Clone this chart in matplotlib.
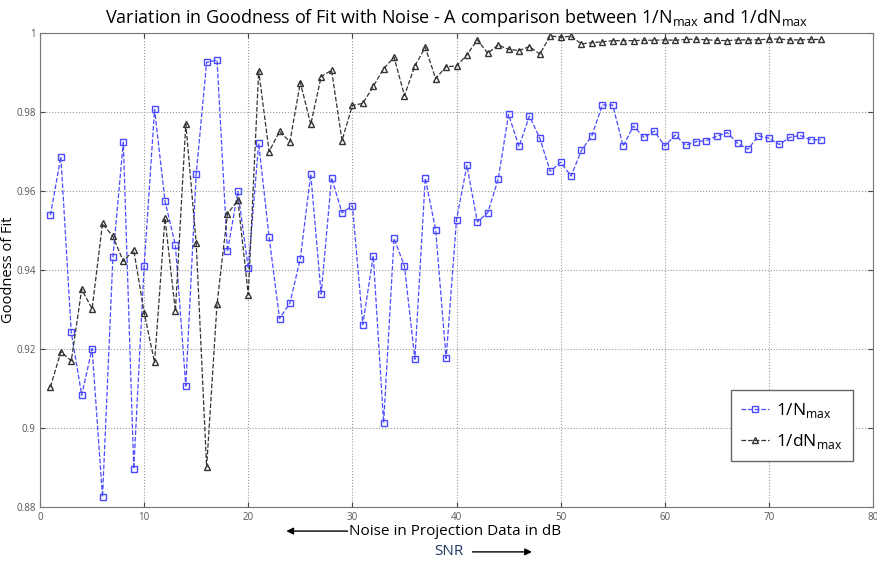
import matplotlib.pyplot as plt

snr = list(range(1, 76))

# 1/Nmax
gof_n = [0.9539, 0.9687, 0.9242, 0.9083, 0.9201, 0.8825, 0.9433, 0.9724, 0.8896, 0.9410,
         0.9807, 0.9575, 0.9463, 0.9106, 0.9644, 0.9926, 0.9932, 0.9447, 0.9599, 0.9404,
         0.9721, 0.9484, 0.9277, 0.9316, 0.9429, 0.9643, 0.9339, 0.9634, 0.9545, 0.9563,
         0.9262, 0.9436, 0.9013, 0.9480, 0.9410, 0.9174, 0.9633, 0.9501, 0.9176, 0.9528,
         0.9665, 0.9522, 0.9545, 0.9630, 0.9794, 0.9713, 0.9790, 0.9734, 0.9650, 0.9673,
         0.9638, 0.9703, 0.9740, 0.9818, 0.9818, 0.9714, 0.9765, 0.9736, 0.9752, 0.9714,
         0.9742, 0.9716, 0.9725, 0.9728, 0.9739, 0.9748, 0.9721, 0.9706, 0.9740, 0.9734,
         0.9718, 0.9736, 0.9741, 0.9730, 0.9730]

# 1/dNmax
gof_dn = [0.9104, 0.9193, 0.9170, 0.9351, 0.9302, 0.9518, 0.9485, 0.9422, 0.9451, 0.9292,
          0.9166, 0.9531, 0.9296, 0.9770, 0.9468, 0.8901, 0.9314, 0.9542, 0.9577, 0.9338,
          0.9905, 0.9700, 0.9751, 0.9725, 0.9875, 0.9769, 0.9890, 0.9906, 0.9728, 0.9817,
          0.9822, 0.9865, 0.9910, 0.9939, 0.9842, 0.9917, 0.9964, 0.9885, 0.9915, 0.9917,
          0.9945, 0.9983, 0.9949, 0.9970, 0.9959, 0.9956, 0.9966, 0.9947, 0.9993, 0.9990,
          0.9992, 0.9973, 0.9976, 0.9978, 0.9981, 0.9981, 0.9981, 0.9982, 0.9982, 0.9983,
          0.9982, 0.9984, 0.9985, 0.9983, 0.9982, 0.9981, 0.9983, 0.9983, 0.9983, 0.9985,
          0.9985, 0.9983, 0.9983, 0.9984, 0.9984]

plt.rcParams['font.family'] = ['Open Sans', 'DejaVu Sans']

fig = plt.figure(figsize=(8.78, 5.62), dpi=100)
ax = fig.add_axes([0.0456, 0.098, 0.9487, 0.843])

ax.plot(snr, gof_n, '--s', color='#4a4aff', mfc='none', mec='#4a4aff', ms=5, lw=0.9,
        label=r'1/N$_{\mathregular{max}}$')
ax.plot(snr, gof_dn, '--^', color='#333333', mfc='none', mec='#333333', ms=5, lw=0.9,
        label=r'1/dN$_{\mathregular{max}}$')

ax.set_xlim(0, 80)
ax.set_ylim(0.88, 1)
ax.set_xticks(range(0, 81, 10))
ax.set_yticks([0.88, 0.9, 0.92, 0.94, 0.96, 0.98, 1])
ax.set_yticklabels(['0.88', '0.9', '0.92', '0.94', '0.96', '0.98', '1'])
ax.tick_params(direction='in', top=True, right=True, labelsize=7,
               labelcolor='#555555', color='#444444')
ax.tick_params(axis='y', pad=3)
ax.grid(True, linestyle=':', color='#999999', lw=0.8)
for s in ax.spines.values():
    s.set_color('#777777')

ax.set_ylabel('Goodness of Fit', fontsize=10.5)
ax.yaxis.set_label_coords(-0.029, 0.5)
ax.set_title(r'Variation in Goodness of Fit with Noise - A comparison between 1/N$_{\mathregular{max}}$ and 1/dN$_{\mathregular{max}}$',
             fontsize=13, pad=7)

leg = ax.legend(loc='lower right', bbox_to_anchor=(0.986, 0.078), fontsize=12.5,
                fancybox=False, edgecolor='#666666', framealpha=1, handlelength=1.6,
                handletextpad=0.4, labelspacing=0.7, borderpad=0.6)

# labels and arrows under the axis
fig.text(0.518, 0.055, 'Noise in Projection Data in dB', ha='center', va='center', fontsize=11)
ax.annotate('', xy=(0.323, 0.055), xytext=(0.399, 0.055), xycoords='figure fraction',
            annotation_clip=False,
            arrowprops=dict(arrowstyle='-|>', color='black', lw=1, mutation_scale=10))
fig.text(0.511, 0.018, 'SNR', ha='center', va='center', fontsize=11, color='#1f3864')
ax.annotate('', xy=(0.609, 0.018), xytext=(0.535, 0.018), xycoords='figure fraction',
            annotation_clip=False,
            arrowprops=dict(arrowstyle='-|>', color='black', lw=1, mutation_scale=10))

fig.savefig('out.png', dpi=100)
